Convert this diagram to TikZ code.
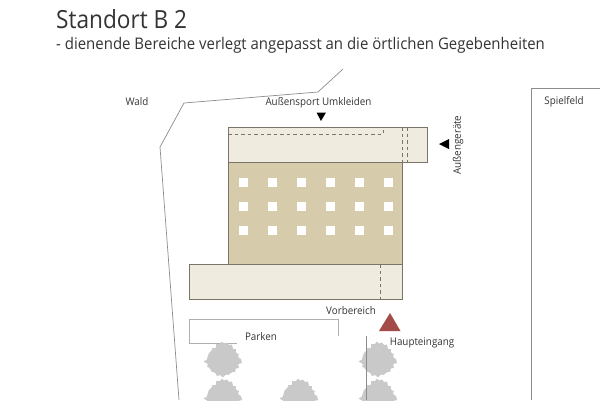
\documentclass[tikz,border=0pt]{standalone}
\usepackage{fontspec}
\setmainfont[FakeStretch=0.935]{Open Sans}
\newfontfamily\titlefont[FakeStretch=0.905]{Open Sans}
\definecolor{band}{HTML}{EFEBDF}
\definecolor{mainc}{HTML}{D6CBAA}
\definecolor{edgec}{HTML}{7A7566}
\definecolor{treec}{HTML}{C9C9C9}
\definecolor{linec}{HTML}{8C8C8C}
\definecolor{redt}{HTML}{A24B48}
\definecolor{txt}{HTML}{333333}
\tikzset{
  x=1pt,y=-1pt,
  lbl/.style={font=\fontsize{10.5}{12}\selectfont,text=txt,inner sep=0pt},
  bandbox/.style={fill=band,draw=edgec,line width=0.8pt},
  mainbox/.style={fill=mainc,draw=edgec,line width=0.8pt},
  dashline/.style={draw=edgec,line width=0.7pt,dash pattern=on 3.5pt off 3pt},
  siteline/.style={draw=linec,line width=0.7pt},
  win/.style={fill=white,draw=none},
  crown/.pic={
    \fill[treec] (0,0.5) ellipse [x radius=16,y radius=14.5];
    \fill[treec] (-3,-16) -- (-1,-18.5) -- (1,-16.5) -- (4,-17.5) -- (6,-15) -- (9,-15.5) -- (10,-11) -- (13,-11) -- (12.5,-7) -- (16,-6) -- (14.5,-3) -- (18,-1) -- (19,3) -- (15,4) -- (16,8) -- (12,8) -- (12.5,12) -- (8,11.5) -- (6,15) -- (3,14) -- (0,17.5) -- (-3,15) -- (-6,16) -- (-8,12) -- (-12,11.5) -- (-11.5,8) -- (-16,7) -- (-15,4) -- (-19.5,1.5) -- (-15,-1) -- (-13,-4) -- (-14.5,-7) -- (-10,-8) -- (-11,-12) -- (-7,-12) -- (-7,-16) -- cycle;
  }
}
\begin{document}
\begin{tikzpicture}
\useasboundingbox (0,0) rectangle (600,400);
\clip (0,0) rectangle (600,400);
% title
\node[anchor=base west,inner sep=0pt,font=\titlefont\fontsize{25}{27}\selectfont,text=txt] (title) at (56,28.5) {Standort B 2};
\node[anchor=base west,inner sep=0pt,font=\fontsize{16}{18}\selectfont,text=txt] (sub) at (56,49.5) {- dienende Bereiche verlegt angepasst an die örtlichen Gegebenheiten};
% site lines
\draw[siteline] (343,69) -- (318,92) -- (184,103) -- (160,147) -- (179,400);
\draw[siteline] (531,400) -- (531,88) -- (600,88);
% building
\draw[bandbox] (228,127) rectangle (427.5,162);
\draw[bandbox] (189.5,264) rectangle (402,299.5);
\draw[mainbox] (228,162) rectangle (402,264);
\draw[dashline] (228,134) -- (383,134) -- (383,127);
\draw[dashline] (402,127) -- (402,162);
\draw[dashline] (407,127) -- (407,162);
\draw[dashline] (380,264) -- (380,299.5);
\foreach \xx in {243,272,301,330,359,388}
  \foreach \yy in {182,206,230}
    \fill[win] (\xx-4.5,\yy-4.5) rectangle (\xx+4.5,\yy+4.5);
% parking and road
\draw[siteline,draw=linec!70] (236.5,343) -- (189.5,343) -- (189.5,319.5) -- (338,319.5) -- (338,336);
% trees
\path (223,360) pic {crown};
\path (223,397) pic {crown};
\path (299,397) pic {crown};
\path (378,360) pic {crown};
\path (378,397) pic {crown};
\draw[siteline] (366,336) -- (366,400);
% markers
\fill[black] (316.5,112.5) -- (326,112.5) -- (321,121) -- cycle;
\fill[black] (439,144) -- (449,139) -- (449,149) -- cycle;
\fill[redt] (390,313) -- (379,331) -- (400.5,331) -- cycle;
% labels
\node[lbl] (wald) at (137,102) {Wald};
\node[lbl] (umk) at (318.5,103) {Außensport Umkleiden};
\node[lbl,rotate=90] (geraete) at (458,145) {Außengeräte};
\node[lbl] (spiel) at (564,102) {Spielfeld};
\node[lbl] (vor) at (351,311) {Vorbereich};
\node[lbl] (park) at (261,337) {Parken};
\node[lbl] (haupt) at (422,343) {Haupteingang};
\end{tikzpicture}
\end{document}
